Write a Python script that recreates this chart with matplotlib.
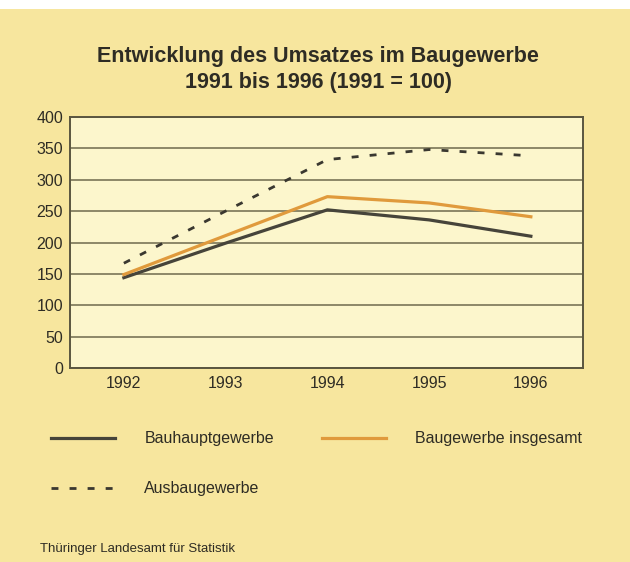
import numpy as np
import matplotlib.pyplot as plt

years = [1992, 1993, 1994, 1995, 1996]
bauhaupt = [144, 199, 252, 236, 210]
insgesamt = [149, 211, 273, 263, 241]
ausbau = [167, 250, 332, 348, 338]
yticks = [0, 50, 100, 150, 200, 250, 300, 350, 400]

title = 'Entwicklung des Umsatzes im Baugewerbe\n1991 bis 1996 (1991 = 100)'
source = 'Thüringer Landesamt für Statistik'

plt.rcParams['font.family'] = ['Liberation Sans', 'DejaVu Sans']
txt = '#2e2c24'

fig = plt.figure(figsize=(6.3, 5.62), dpi=100, facecolor='#f7e69e')
# white strip at the top of the scan
fig.patches.append(plt.Rectangle((0, 0.984), 1, 0.016, transform=fig.transFigure,
                                 facecolor='white', edgecolor='none', zorder=0))

ax = fig.add_axes([0.111, 0.345, 0.814, 0.447])
ax.set_facecolor('#fcf6cc')
ax.set_xlim(1991.47, 1996.51)
ax.set_ylim(0, 400)
ax.set_yticks(yticks)
ax.set_xticks(years)
ax.yaxis.grid(True, color='#8c8868', lw=1.4)
ax.set_axisbelow(True)
for s in ax.spines.values():
    s.set_color('#5a5640')
    s.set_linewidth(1.4)
ax.tick_params(length=0, labelsize=11.5, colors=txt, pad=5)
ax.tick_params(axis='x', pad=6)

l1, = ax.plot(years, bauhaupt, color='#46443a', lw=2.3, label='Bauhauptgewerbe')
l2, = ax.plot(years, insgesamt, color='#e09a3c', lw=2.3, label='Baugewerbe insgesamt')
l3, = ax.plot(years, ausbau, color='#3a3830', lw=2, dashes=(2.5, 4), label='Ausbaugewerbe')

fig.text(0.505, 0.876, title, ha='center', va='center', fontsize=15.5,
         fontweight='bold', color=txt, linespacing=1.3)

fig.legend([l1, l3, l2], [l1.get_label(), l3.get_label(), l2.get_label()],
           ncol=2, loc='upper left', bbox_to_anchor=(0.068, 0.247),
           frameon=False, fontsize=11.5, handlelength=4.0, handletextpad=1.85,
           columnspacing=3.0, labelspacing=2.2, borderpad=0, labelcolor=txt)

fig.text(0.064, 0.024, source, fontsize=9.5, color=txt, va='center')

fig.savefig('out.png', dpi=100, facecolor=fig.get_facecolor())
